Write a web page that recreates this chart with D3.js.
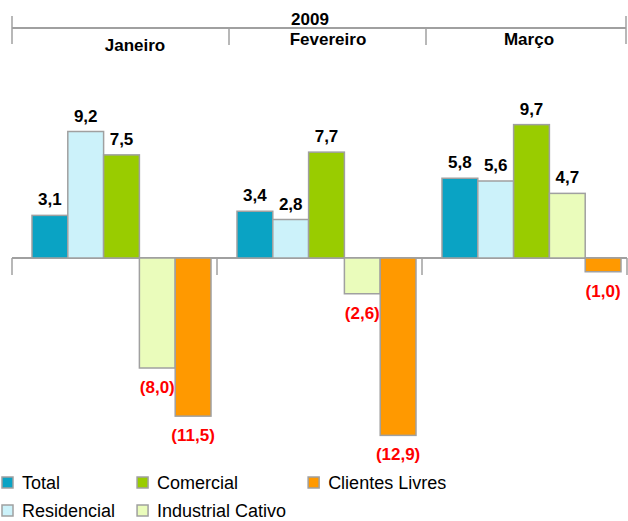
<!DOCTYPE html>
<html>
<head>
<meta charset="utf-8">
<script src="https://cdn.jsdelivr.net/npm/d3@7"></script>
<style>
  body { margin: 0; background: #fff; }
  svg { display: block; }
</style>
</head>
<body>
<script>
// dados
var year = '2009';
var months = ['Janeiro', 'Fevereiro', 'Março'];
var series = ['Total', 'Residencial', 'Comercial', 'Industrial Cativo', 'Clientes Livres'];
var colors = ['#0aa3c4', '#ccf2fa', '#99cc00', '#eafcbb', '#ff9900'];
var total = [3.1, 3.4, 5.8];
var residencial = [9.2, 2.8, 5.6];
var comercial = [7.5, 7.7, 9.7];
var industrialCativo = [-8.0, -2.6, 4.7];
var clientesLivres = [-11.5, -12.9, -1.0];

window.onload = function(){
    var values = [total, residencial, comercial, industrialCativo, clientesLivres];
    var rows = [];
    months.forEach(function(m, mi){
        series.forEach(function(s, si){
            rows.push({month: m, serie: s, idx: si, value: values[si][mi]});
        });
    });

    var W = 628, H = 521;
    var svg = d3.select(document.body).append('svg')
        .attr('width', W).attr('height', H);

    var x0 = d3.scaleBand().domain(months).range([12, 627]);
    var x1 = d3.scaleBand().domain(series).range([20, 199]);
    var y = d3.scaleLinear().domain([-13, 10]).range([436.75, 120.5]);
    var fmt = function(v){
        var s = Math.abs(v).toFixed(1).replace('.', ',');
        return v < 0 ? '(' + s + ')' : s;
    };
    var gray = '#a0a0a0';

    // cabeçalho: ano e meses
    var head = svg.append('g');
    head.append('line').attr('x1', 12).attr('x2', 626).attr('y1', 28).attr('y2', 28)
        .style('stroke', gray).style('stroke-width', 2);
    [12, 626].forEach(function(px){
        head.append('line').attr('x1', px).attr('x2', px).attr('y1', 16).attr('y2', 44)
            .style('stroke', gray).style('stroke-width', 1.5);
    });
    months.slice(1).forEach(function(m){
        var px = x0(m) + (m === 'Fevereiro' ? 12 : 4);
        head.append('line').attr('x1', px).attr('x2', px).attr('y1', 28).attr('y2', 45)
            .style('stroke', gray).style('stroke-width', 1.5);
    });
    head.append('text').attr('x', 310).attr('y', 25).attr('text-anchor', 'middle')
        .style('font', 'bold 17px "Liberation Sans", Arial, sans-serif').text(year);
    head.selectAll('text.m').data(months).enter().append('text')
        .attr('class', 'm')
        .attr('x', function(d, i){ return [135, 328, 529][i]; })
        .attr('y', function(d, i){ return i === 0 ? 51 : 45; })
        .attr('text-anchor', 'middle')
        .style('font', 'bold 17px "Liberation Sans", Arial, sans-serif')
        .text(function(d){ return d; });

    // eixo zero
    var axis = svg.append('g');
    axis.append('line').attr('x1', 12).attr('x2', 627).attr('y1', y(0)).attr('y2', y(0))
        .style('stroke', gray).style('stroke-width', 2);
    var ticks = months.map(function(m){ return x0(m); }).concat([x0.range()[1]]);
    axis.selectAll('line.t').data(ticks).enter().append('line')
        .attr('class', 't')
        .attr('x1', function(d){ return d; }).attr('x2', function(d){ return d; })
        .attr('y1', y(0)).attr('y2', y(0) + 17)
        .style('stroke', gray).style('stroke-width', 1.5);

    // barras
    var bars = svg.append('g').selectAll('rect').data(rows).enter();
    bars.append('rect')
        .attr('x', function(d){ return x0(d.month) + x1(d.serie); })
        .attr('y', function(d){ return y(Math.max(0, d.value)); })
        .attr('width', x1.bandwidth())
        .attr('height', function(d){ return Math.abs(y(d.value) - y(0)); })
        .style('fill', function(d){ return colors[d.idx]; })
        .style('stroke', gray).style('stroke-width', 1.5);

    // rótulos
    bars.append('text')
        .attr('x', function(d){ return x0(d.month) + x1(d.serie) + x1.bandwidth() / 2; })
        .attr('y', function(d){ return d.value < 0 ? y(d.value) + 25 : y(d.value) - 10; })
        .attr('text-anchor', 'middle')
        .style('font', 'bold 17px "Liberation Sans", Arial, sans-serif')
        .style('fill', function(d){ return d.value < 0 ? '#ff0000' : '#000'; })
        .text(function(d){ return fmt(d.value); });

    // legenda (2 linhas, por colunas)
    var leg = svg.append('g');
    var colX = 2, colW = 0;
    series.forEach(function(s, i){
        var row = i % 2;
        if (row === 0 && i > 0) { colX += colW + 22; colW = 0; }
        var cy = 483 + row * 28;
        leg.append('rect').attr('x', colX).attr('y', cy - 6).attr('width', 11).attr('height', 11)
            .style('fill', colors[i]).style('stroke', gray).style('stroke-width', 1.5);
        var t = leg.append('text').attr('x', colX + 20).attr('y', cy + 6)
            .style('font', '18px "Liberation Sans", Arial, sans-serif')
            .text(s);
        colW = Math.max(colW, 20 + t.node().getComputedTextLength());
    });
};
</script>
</body>
</html>
